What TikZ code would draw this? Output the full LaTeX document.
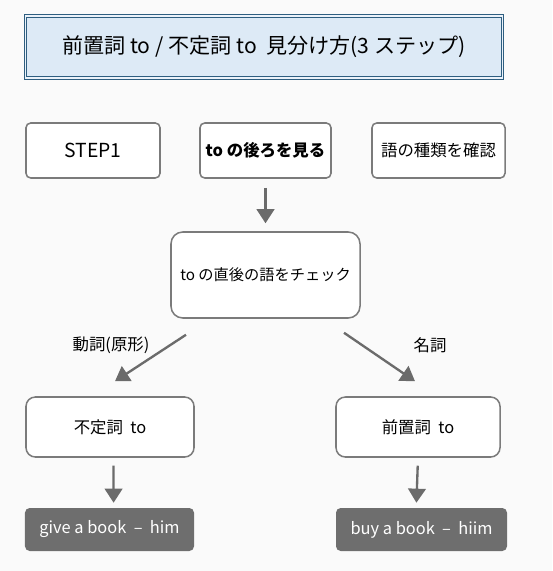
\documentclass[tikz,border=0pt]{standalone}
\usepackage{fontspec}
\setmainfont{Noto Sans CJK JP}
\usetikzlibrary{arrows.meta}
\usetikzlibrary{positioning}
\definecolor{mpaper}{HTML}{FAFAFA}
\definecolor{mtitle}{HTML}{DDEAF6}
\definecolor{mframe}{HTML}{2E5E80}
\definecolor{mgray}{HTML}{7B7B7B}
\definecolor{marrow}{HTML}{6B6B6B}
\definecolor{mdark}{HTML}{6E6E6E}
\tikzset{box/.style = {draw=mgray, line width=1.3pt, fill=white, rounded corners=4pt,
                       inner sep=0, align=center, font=\fontsize{14}{16}\selectfont}}
\tikzset{darkbox/.style = {fill=mdark, rounded corners=4pt, inner sep=0,
                           text=white, font=\fontsize{14}{16}\selectfont}}
\tikzset{flow/.style = {draw=marrow, line width=2pt,
                        -{Triangle[width=15pt,length=12pt]}}}

\begin{document}
\begin{tikzpicture}[x=0.03cm, y=-0.03cm]
          \fill [mpaper] (0, 0) rectangle (552, 571);
          \useasboundingbox (0, 0) rectangle (552, 571);

          \node (title) [fill=mtitle, draw=mframe, double=mtitle!60!white, double distance=1.2pt,
                         line width=0.8pt, minimum width=14.3cm, minimum height=1.86cm,
                         font=\fontsize{18}{20}\selectfont] at (264, 47)
                {前置詞 to / 不定詞 to \ 見分け方(3 ステップ)};

          \node (step) [box, minimum width=4.02cm, minimum height=1.65cm,
                        font=\fontsize{16.5}{18}\selectfont] at (93, 150.5) {STEP1};
          \node (look) [box, minimum width=3.93cm, minimum height=1.65cm] at (265.5, 150.5)
                {\bfseries to の後ろを見る};
          \node (kind) [box, minimum width=3.99cm, minimum height=1.65cm] at (438.5, 150.5) {語の種類を確認};

          \node (check) [box, rounded corners=10pt, minimum width=5.67cm, minimum height=2.58cm,
                         font=\fontsize{13}{15}\selectfont] at (265.5, 275) {to の直後の語をチェック};

          \node (infin) [box, rounded corners=8pt, minimum width=5.04cm, minimum height=1.8cm] at (110, 427)
                {不定詞 \ to};
          \node (prep) [box, rounded corners=8pt, minimum width=4.92cm, minimum height=1.8cm] at (418, 427)
                {前置詞 \ to};

          \node (give) [darkbox, minimum width=5.07cm, minimum height=1.29cm] at (109.5, 529.5)
                {give a book \ – \ him};
          \node (buy) [darkbox, minimum width=5.13cm, minimum height=1.29cm] at (421.5, 529.5)
                {buy a book \ – \ hiim};

          \node (verb) [font=\fontsize{14}{16}\selectfont] at (111, 345) {動詞(原形)};
          \node (noun) [font=\fontsize{14}{16}\selectfont] at (430, 345) {名詞};

          \draw [flow, shorten <=7.7pt, shorten >=6.8pt] (look) -- (check);
          \draw [flow] ([shift={(-79.5, 16)}]check.south) -- ([shift={(5, -15)}]infin.north);
          \draw [flow] ([shift={(78.5, 14)}]check.south) -- ([shift={(-3, -15)}]prep.north);
          \draw [flow, shorten <=6.8pt, shorten >=4.3pt] ([xshift=3]infin.south) -- ([xshift=3.5]give.north);
          \draw [flow, shorten <=6.8pt, shorten >=4.3pt] (prep.south) -- ([xshift=-4.5]buy.north);
        \end{tikzpicture}
\end{document}
